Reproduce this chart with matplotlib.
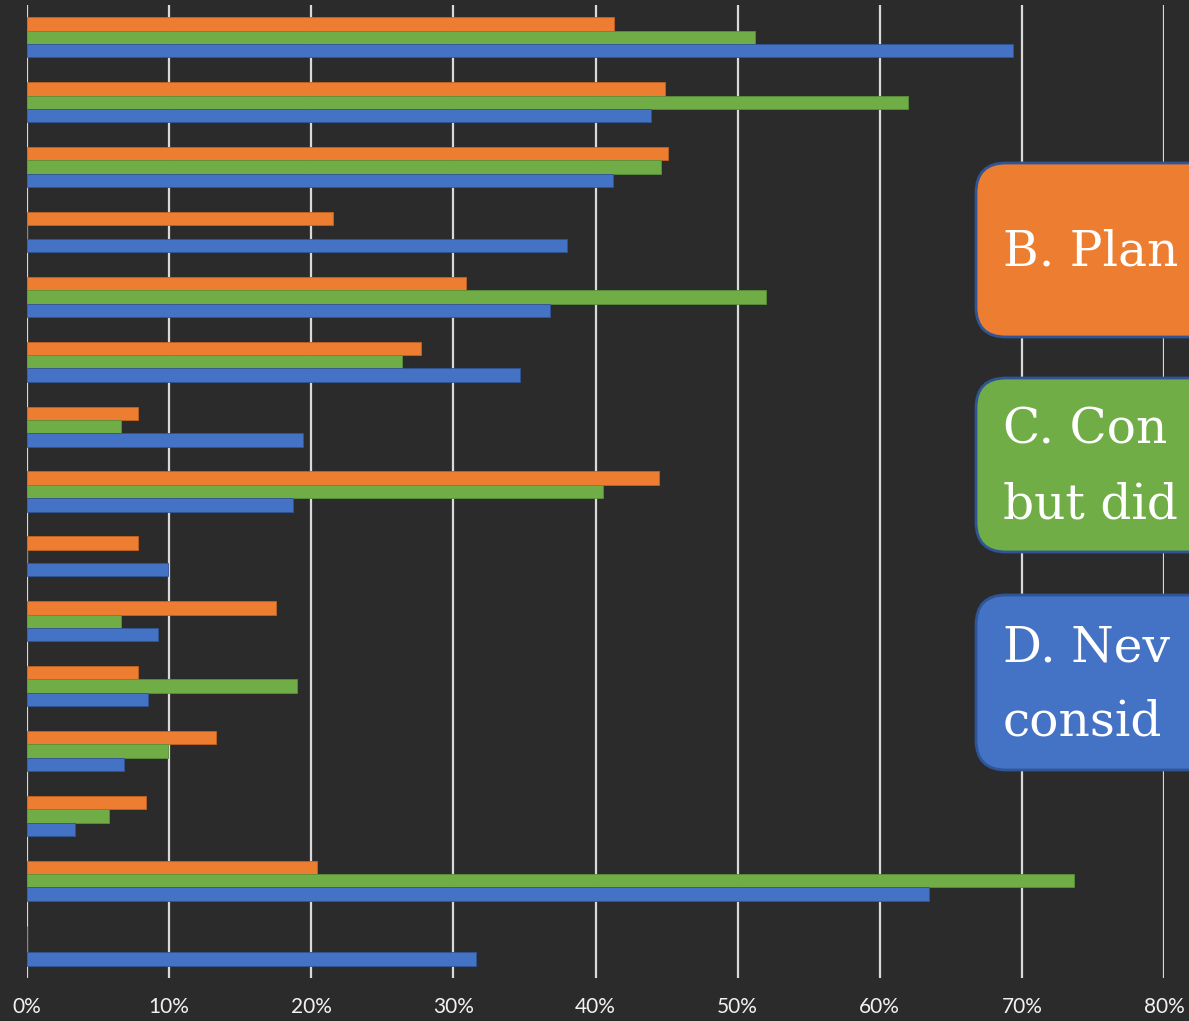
import matplotlib
matplotlib.use("Agg")
import matplotlib.pyplot as plt
from matplotlib.patches import FancyBboxPatch
from matplotlib.ticker import PercentFormatter
import numpy as np

# survey answers per item (share of respondents, %)
n_items = 15
planned = [41.3, 44.9, 45.1, 21.5, 30.9, 27.7, 7.8, 44.5, 7.8, 17.5, 7.8, 13.3, 8.4, 20.4, 0.0]
considered = [51.2, 62.0, 44.6, 0.0, 52.0, 26.4, 6.6, 40.5, 0.0, 6.6, 19.0, 9.9, 5.8, 73.7, 0.0]
never = [69.4, 43.9, 41.2, 38.0, 36.8, 34.7, 19.4, 18.7, 9.9, 9.2, 8.5, 6.8, 3.4, 63.5, 31.6]
xticks = [0, 10, 20, 30, 40, 50, 60, 70, 80]
answer_labels = [["B. Plan"], ["C. Con", "but did"], ["D. Nev", "consid"]]

c_orange = "#ED7D31"
c_green = "#70AD47"
c_blue = "#4472C4"
bg = "#2b2b2b"

fig = plt.figure(figsize=(11.89, 10.21), dpi=100)
fig.patch.set_facecolor(bg)

ax = fig.add_axes([27 / 1189, 1 - 978 / 1021, (1164 - 27) / 1189, (978 - 5) / 1021])
ax.set_facecolor("none")

y = np.arange(n_items)
h = 0.206
ax.barh(y - h, planned, height=h, color=c_orange, edgecolor="#c4631f", linewidth=0.6, zorder=3)
ax.barh(y, considered, height=h, color=c_green, edgecolor="#5a9138", linewidth=0.6, zorder=3)
ax.barh(y + h, never, height=h, color=c_blue, edgecolor="#2f5597", linewidth=0.6, zorder=3)

ax.set_xlim(0, 80)
ax.set_ylim(n_items - 0.5, -0.5)
ax.set_xticks(xticks)
ax.xaxis.set_major_formatter(PercentFormatter(decimals=0))
ax.set_yticks([])
ax.grid(axis="x", color="#d9d9d9", linewidth=1.6, zorder=1)
for s in ax.spines.values():
    s.set_visible(False)
ax.tick_params(axis="x", length=0, pad=14, labelsize=15, labelcolor="#f2f2f2")
for lab in ax.get_xticklabels():
    lab.set_fontfamily("Lato")

# overlay in pixel units for the answer boxes
ov = fig.add_axes([0, 0, 1, 1])
ov.set_xlim(0, 1189)
ov.set_ylim(1021, 0)
ov.axis("off")
ov.patch.set_alpha(0)

boxes = [
    (163, 337, c_orange, [252]),
    (378, 552, c_green, [430, 505]),
    (595, 770, c_blue, [648, 722]),
]
for (top, bot, col, ys), lines in zip(boxes, answer_labels):
    ov.add_patch(FancyBboxPatch((976, top), 400, bot - top,
                                boxstyle="round,pad=0,rounding_size=30",
                                facecolor=col, edgecolor="#2f5597", linewidth=2))
    for txt, ty in zip(lines, ys):
        ov.text(1003, ty, txt, color="white", fontsize=35, family="DejaVu Serif",
                va="center", ha="left")

fig.savefig("out.png", dpi=100, facecolor=bg)
